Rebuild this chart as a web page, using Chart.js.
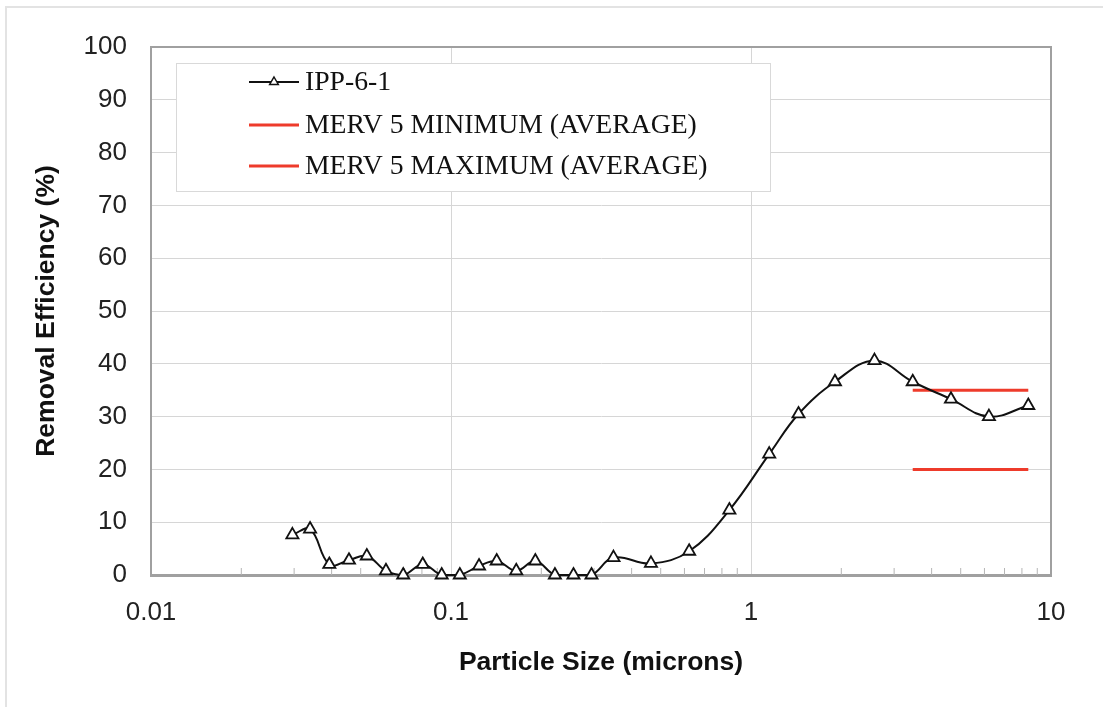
<!DOCTYPE html>
<html>
<head>
<meta charset="utf-8">
<script src="https://cdn.jsdelivr.net/npm/chart.js@4.4.1/dist/chart.umd.min.js"></script>
<style>
  html, body { margin: 0; padding: 0; background: #fff; }
  #wrap { position: relative; width: 1103px; height: 707px; }
  #frame { position: absolute; left: 5px; top: 6px; right: -2px; bottom: -2px;
           border-left: 2px solid #e3e3e3; border-top: 2px solid #e3e3e3; pointer-events: none; }
</style>
</head>
<body>
<div id="wrap">
  <canvas id="effChart"></canvas>
  <div id="frame"></div>
</div>
<script>
document.addEventListener("DOMContentLoaded", function () {
    const ctx = document.getElementById('effChart').getContext('2d');

    // Particle sizes (microns) for test IPP-6-1
    const particleSize = [
        0.0296, 0.0339, 0.0393, 0.0457, 0.0524, 0.0607, 0.0693, 0.0805, 0.0931, 0.107,
        0.124, 0.142, 0.165, 0.191, 0.222, 0.256, 0.294, 0.348, 0.464, 0.622,
        0.847, 1.15, 1.44, 1.905, 2.58, 3.46, 4.64, 6.21, 8.40
    ];

    // Removal efficiency (%) per size
    const ippEfficiency = [
        7.6, 8.7, 2.0, 2.8, 3.6, 0.8, 0, 2.0, 0, 0,
        1.7, 2.65, 0.8, 2.65, 0, 0, 0, 3.3, 2.2, 4.5,
        12.3, 22.9, 30.5, 36.6, 40.6, 36.6, 33.3, 30.0, 32.1
    ];

    // MERV 5 average band (3 - 10 micron range)
    const mervRange = [3.46, 8.40];
    const mervMinimum = [20, 20];
    const mervMaximum = [35, 35];

    // Axis ticks
    const xMajorTicks = [0.01, 0.1, 1, 10];
    const xTickLabels = ['0.01', '0.1', '1', '10'];
    const yTickStep = 10;

    const gridGrey = '#d6d6d6';
    const axisGrey = '#a0a0a0';
    const mervRed = '#ee3b2b';

    // plot frame (top/right edges) + minor x ticks, under the data
    const framePlugin = {
        id: 'frame',
        beforeDatasetsDraw(chart) {
            const a = chart.chartArea;
            const c = chart.ctx;
            c.save();
            c.strokeStyle = axisGrey;
            c.lineWidth = 2;
            c.beginPath();
            c.moveTo(a.left, a.top);
            c.lineTo(a.right, a.top);
            c.lineTo(a.right, a.bottom);
            c.stroke();
            const xs = chart.scales.x;
            c.lineWidth = 1;
            c.strokeStyle = '#b5b5b5';
            xs.ticks.forEach(t => {
                if (t.major) return;
                const px = xs.getPixelForValue(t.value);
                c.beginPath();
                c.moveTo(px, a.bottom);
                c.lineTo(px, a.bottom - 7);
                c.stroke();
            });
            c.restore();
        }
    };

    // boxed legend inside the plot, Excel style
    const boxLegend = {
        id: 'boxLegend',
        afterDraw(chart) {
            const a = chart.chartArea;
            const c = chart.ctx;
            const bx = a.left + 25, by = a.top + 16, bw = 594, bh = 128;
            c.save();
            c.fillStyle = '#fff';
            c.fillRect(bx, by, bw, bh);
            c.strokeStyle = '#d9d9d9';
            c.lineWidth = 1;
            c.strokeRect(bx + 0.5, by + 0.5, bw, bh);
            c.font = '27.7px "Liberation Serif", "Times New Roman", serif';
            c.textBaseline = 'middle';
            const rowY = [19, 62, 103];
            chart.data.datasets.forEach((ds, i) => {
                const y = by + rowY[i];
                c.strokeStyle = ds.borderColor;
                c.lineWidth = ds.borderWidth;
                c.beginPath();
                c.moveTo(bx + 73, y);
                c.lineTo(bx + 123, y);
                c.stroke();
                if (ds.pointRadius > 0) {
                    const r = 5;
                    c.fillStyle = '#fff';
                    c.strokeStyle = '#111';
                    c.lineWidth = 1.5;
                    c.beginPath();
                    c.moveTo(bx + 98, y - r);
                    c.lineTo(bx + 98 + r * 0.866, y + r / 2);
                    c.lineTo(bx + 98 - r * 0.866, y + r / 2);
                    c.closePath();
                    c.fill();
                    c.stroke();
                }
                c.fillStyle = '#111';
                c.fillText(ds.label, bx + 129, y + 1);
            });
            c.restore();
        }
    };

    new Chart(ctx, {
        type: 'line',
        data: {
            datasets: [
                {
                    label: 'IPP-6-1',
                    data: particleSize.map((x, i) => ({ x: x, y: ippEfficiency[i] })),
                    borderColor: '#111',
                    borderWidth: 2,
                    tension: 0.4,
                    clip: false,
                    pointStyle: 'triangle',
                    pointRadius: 7,
                    pointBorderWidth: 1.8,
                    pointBackgroundColor: '#fff',
                    pointBorderColor: '#111'
                },
                {
                    label: 'MERV 5 MINIMUM (AVERAGE)',
                    data: mervRange.map((x, i) => ({ x: x, y: mervMinimum[i] })),
                    borderColor: mervRed,
                    borderWidth: 3,
                    pointRadius: 0
                },
                {
                    label: 'MERV 5 MAXIMUM (AVERAGE)',
                    data: mervRange.map((x, i) => ({ x: x, y: mervMaximum[i] })),
                    borderColor: mervRed,
                    borderWidth: 3,
                    pointRadius: 0
                }
            ]
        },
        options: {
            responsive: true,
            maintainAspectRatio: false,
            animation: false,
            layout: {
                padding: { left: 31, top: 47, right: 52, bottom: 28 }
            },
            scales: {
                x: {
                    type: 'logarithmic',
                    min: xMajorTicks[0],
                    max: xMajorTicks[xMajorTicks.length - 1],
                    afterBuildTicks: (scale) => {
                        const ticks = [];
                        for (let d = 0; d < xMajorTicks.length - 1; d++) {
                            for (let m = 1; m <= 9; m++) {
                                ticks.push({ value: xMajorTicks[d] * m, major: m === 1, label: m === 1 ? xTickLabels[d] : '' });
                            }
                        }
                        ticks.push({ value: xMajorTicks[xMajorTicks.length - 1], major: true, label: xTickLabels[xTickLabels.length - 1] });
                        scale.ticks = ticks;
                    },
                    afterFit: (scale) => { scale.height = 707 - 28 - 575; },
                    grid: {
                        color: (c) => (c.tick && c.tick.major) ? gridGrey : 'rgba(0,0,0,0)',
                        drawTicks: false
                    },
                    border: { color: axisGrey, width: 3 },
                    ticks: {
                        autoSkip: false,
                        maxRotation: 0,
                        padding: 22,
                        color: '#222',
                        font: { family: '"Liberation Sans", Arial, sans-serif', size: 26 },
                        callback: function (value, index, ticks) {
                            return ticks[index].major ? ticks[index].label : '';
                        }
                    },
                    title: {
                        display: true,
                        text: 'Particle Size (microns)',
                        color: '#111',
                        padding: 0,
                        font: { family: '"Liberation Sans", Arial, sans-serif', size: 26.5, weight: 'bold' }
                    }
                },
                y: {
                    min: 0,
                    max: 100,
                    afterFit: (scale) => { scale.width = 151 - 31; },
                    grid: { color: gridGrey, drawTicks: false },
                    border: { color: axisGrey, width: 2 },
                    ticks: {
                        stepSize: yTickStep,
                        padding: 24,
                        color: '#222',
                        font: { family: '"Liberation Sans", Arial, sans-serif', size: 26 }
                    },
                    title: {
                        display: true,
                        text: 'Removal Efficiency (%)',
                        color: '#111',
                        padding: 0,
                        font: { family: '"Liberation Sans", Arial, sans-serif', size: 26.5, weight: 'bold' }
                    }
                }
            },
            plugins: {
                legend: { display: false },
                tooltip: { enabled: false }
            }
        },
        plugins: [framePlugin, boxLegend]
    });
});
</script>
</body>
</html>
